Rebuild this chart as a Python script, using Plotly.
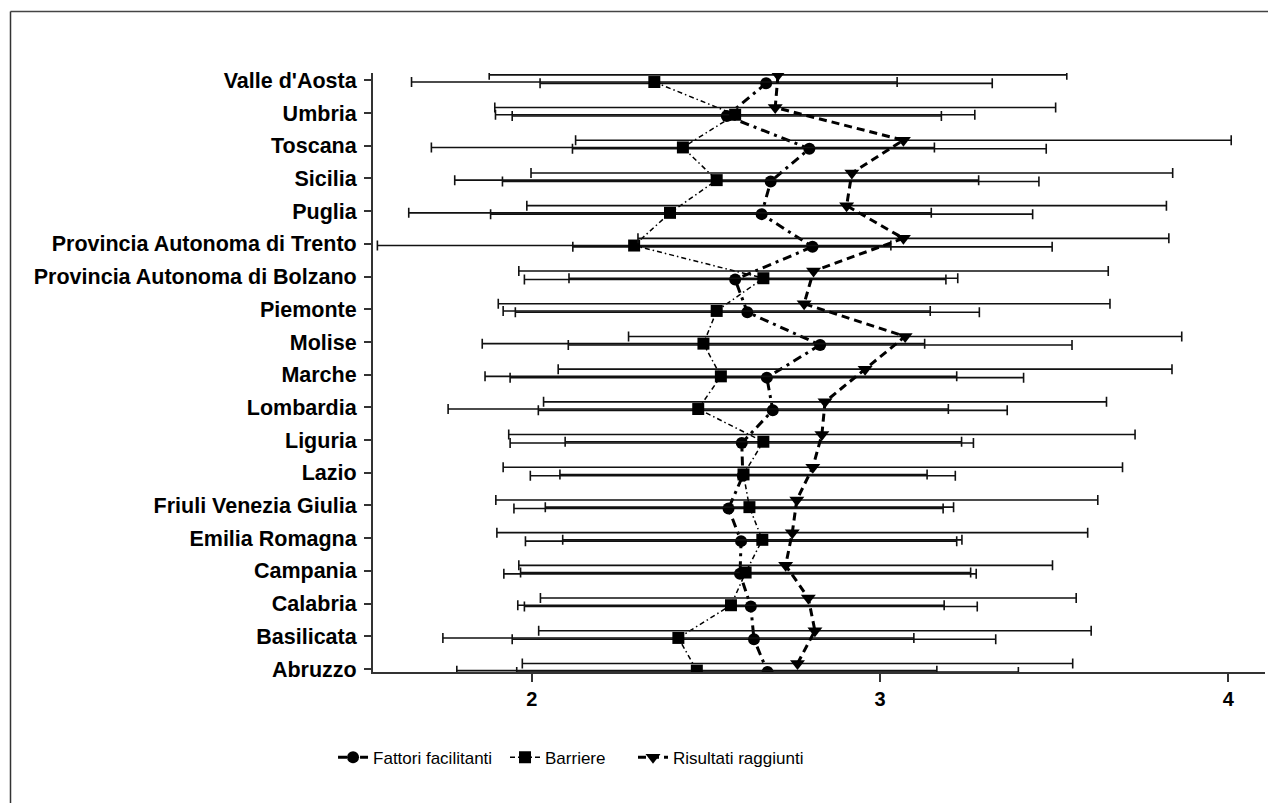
import plotly.graph_objects as go

regions = ["Valle d'Aosta", "Umbria", "Toscana", "Sicilia", "Puglia",
           "Provincia Autonoma di Trento", "Provincia Autonoma di Bolzano",
           "Piemonte", "Molise", "Marche", "Lombardia", "Liguria", "Lazio",
           "Friuli Venezia Giulia", "Emilia Romagna", "Campania", "Calabria",
           "Basilicata", "Abruzzo"]

fac_mean = [2.673, 2.560, 2.797, 2.686, 2.660, 2.806, 2.584, 2.619, 2.828, 2.675,
            2.692, 2.603, 2.606, 2.565, 2.601, 2.598, 2.629, 2.638, 2.677]
fac_sd = [0.649, 0.616, 0.680, 0.770, 0.778, 0.688, 0.605, 0.666, 0.723, 0.737,
          0.673, 0.665, 0.610, 0.616, 0.619, 0.678, 0.650, 0.694, 0.720]
bar_mean = [2.352, 2.584, 2.434, 2.531, 2.397, 2.294, 2.665, 2.531, 2.493, 2.543,
            2.478, 2.665, 2.608, 2.625, 2.662, 2.614, 2.572, 2.421, 2.474]
bar_sd = [0.697, 0.688, 0.722, 0.752, 0.750, 0.737, 0.558, 0.613, 0.635, 0.677,
          0.718, 0.569, 0.527, 0.586, 0.573, 0.646, 0.612, 0.676, 0.689]
ris_mean = [2.707, 2.699, 3.067, 2.919, 2.904, 3.067, 2.809, 2.782, 3.072, 2.957,
            2.842, 2.833, 2.807, 2.761, 2.748, 2.729, 2.794, 2.813, 2.763]
ris_sd = [0.829, 0.805, 0.941, 0.921, 0.918, 0.762, 0.846, 0.878, 0.794, 0.881,
          0.808, 0.899, 0.889, 0.864, 0.848, 0.766, 0.769, 0.793, 0.790]

x_ticks = [2, 3, 4]

n = len(regions)
ypos = [n - 1 - i for i in range(n)]

series = [
    ("Fattori facilitanti", fac_mean, fac_sd, -0.09, "circle", 12,
     dict(color="black", width=3, dash="9px,5px,3px,5px"), "legend", -0.0448),
    ("Barriere", bar_mean, bar_sd, -0.05, "square", 12,
     dict(color="black", width=1.5, dash="5px,3px,1.5px,3px"), "legend2", 0.148),
    ("Risultati raggiunti", ris_mean, ris_sd, 0.17, "triangle-down", 13,
     dict(color="black", width=3, dash="8px,5px"), "legend3", 0.2915),
]

font_family = "Liberation Sans, Arial, sans-serif"

fig = go.Figure()
legends = {}
for name, m, s, off, sym, size, line, lg, lx in series:
    fig.add_trace(go.Scatter(
        x=m, y=[y + off for y in ypos], name=name, mode="lines+markers",
        line=line, legend=lg,
        marker=dict(symbol=sym, size=size, color="black"),
        error_x=dict(type="data", array=s, visible=True, color="#111111",
                     thickness=1.6, width=5),
    ))
    legends[lg] = dict(orientation="h", x=lx, xanchor="left", y=-0.143,
                       yanchor="middle", font=dict(size=17, family=font_family),
                       bgcolor="rgba(0,0,0,0)", itemwidth=30)

fig.update_layout(
    width=1276, height=803,
    paper_bgcolor="white", plot_bgcolor="white",
    margin=dict(l=365, r=19, t=65, b=139),
    font=dict(family=font_family, color="black"),
    showlegend=True,
    **legends,
    xaxis=dict(range=[1.5444, 4.105], tickvals=x_ticks,
               ticktext=[str(v) for v in x_ticks],
               showgrid=False, zeroline=False, showline=True,
               linecolor="#333333", linewidth=2, ticks="outside",
               ticklen=8, tickwidth=2, tickcolor="#333333",
               tickfont=dict(size=20, family=font_family, weight="bold"),
               automargin=False),
    yaxis=dict(range=[-0.092, 18.226], tickvals=ypos, ticktext=regions,
               showgrid=False, zeroline=False, showline=True,
               linecolor="#333333", linewidth=2, ticks="outside",
               ticklen=7, tickwidth=2, tickcolor="#333333",
               ticklabelstandoff=3,
               tickfont=dict(size=21.5, family=font_family, weight="bold"),
               automargin=False),
)

# outer frame (top and left edges visible)
fx0 = (10.5 - 373) / 892
fy1 = (672.3 - 11.5) / 599.3
fig.add_shape(type="line", xref="paper", yref="paper", x0=fx0, x1=1.05,
              y0=fy1, y1=fy1, line=dict(color="#444444", width=1.5))
fig.add_shape(type="line", xref="paper", yref="paper", x0=fx0, x1=fx0,
              y0=-0.3, y1=fy1, line=dict(color="#333333", width=1.5))

fig.write_html("out.html")
